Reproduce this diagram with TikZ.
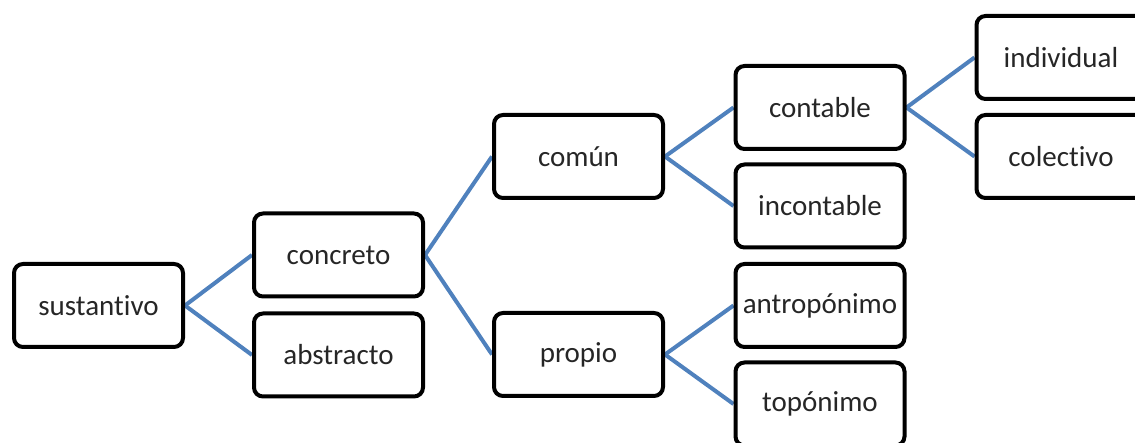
\documentclass[tikz,border=0pt]{standalone}
\usepackage{fontspec}
\setmainfont[Ligatures=NoCommon]{Carlito}
\usetikzlibrary{backgrounds}
\definecolor{linkblue}{RGB}{79,129,189}
\tikzset{
  wordbox/.style={draw=black, fill=white, line width=4pt, rounded corners=9pt,
    minimum width=169pt, minimum height=83pt, inner sep=0pt,
    text=black!85, font=\fontsize{29}{33}\selectfont},
  link/.style={draw=linkblue, line width=4pt}
}
\begin{document}
\begin{tikzpicture}[x=1pt, y=-1pt]
    \useasboundingbox (0,0) rectangle (1135,443);
          \node[wordbox] (sustantivo) at (98.5,305.5) {sustantivo};
          \node[wordbox] (concreto) at (338.5,255) {concreto};
          \node[wordbox] (abstracto) at (338.5,355) {abstracto};
          \node[wordbox] (comun) at (578.5,156.5) {común};
          \node[wordbox] (propio) at (578.5,354.5) {propio};
          \node[wordbox] (contable) at (820,107.5) {contable};
          \node[wordbox] (incontable) at (820,206) {incontable};
          \node[wordbox] (antroponimo) at (820,305.5) {antropónimo};
          \node[wordbox] (toponimo) at (820,404) {topónimo};
          \node[wordbox] (individual) at (1061,57.5) {individual};
          \node[wordbox] (colectivo) at (1061,156.5) {colectivo};
          \begin{scope}[on background layer]
          \draw[link] (sustantivo.east) -- (concreto.west);
          \draw[link] (sustantivo.east) -- (abstracto.west);
          \draw[link] (concreto.east) -- (comun.west);
          \draw[link] (concreto.east) -- (propio.west);
          \draw[link] (comun.east) -- (contable.west);
          \draw[link] (comun.east) -- (incontable.west);
          \draw[link] (propio.east) -- (antroponimo.west);
          \draw[link] (propio.east) -- (toponimo.west);
          \draw[link] (contable.east) -- (individual.west);
          \draw[link] (contable.east) -- (colectivo.west);
          \end{scope}
    \end{tikzpicture}
\end{document}
